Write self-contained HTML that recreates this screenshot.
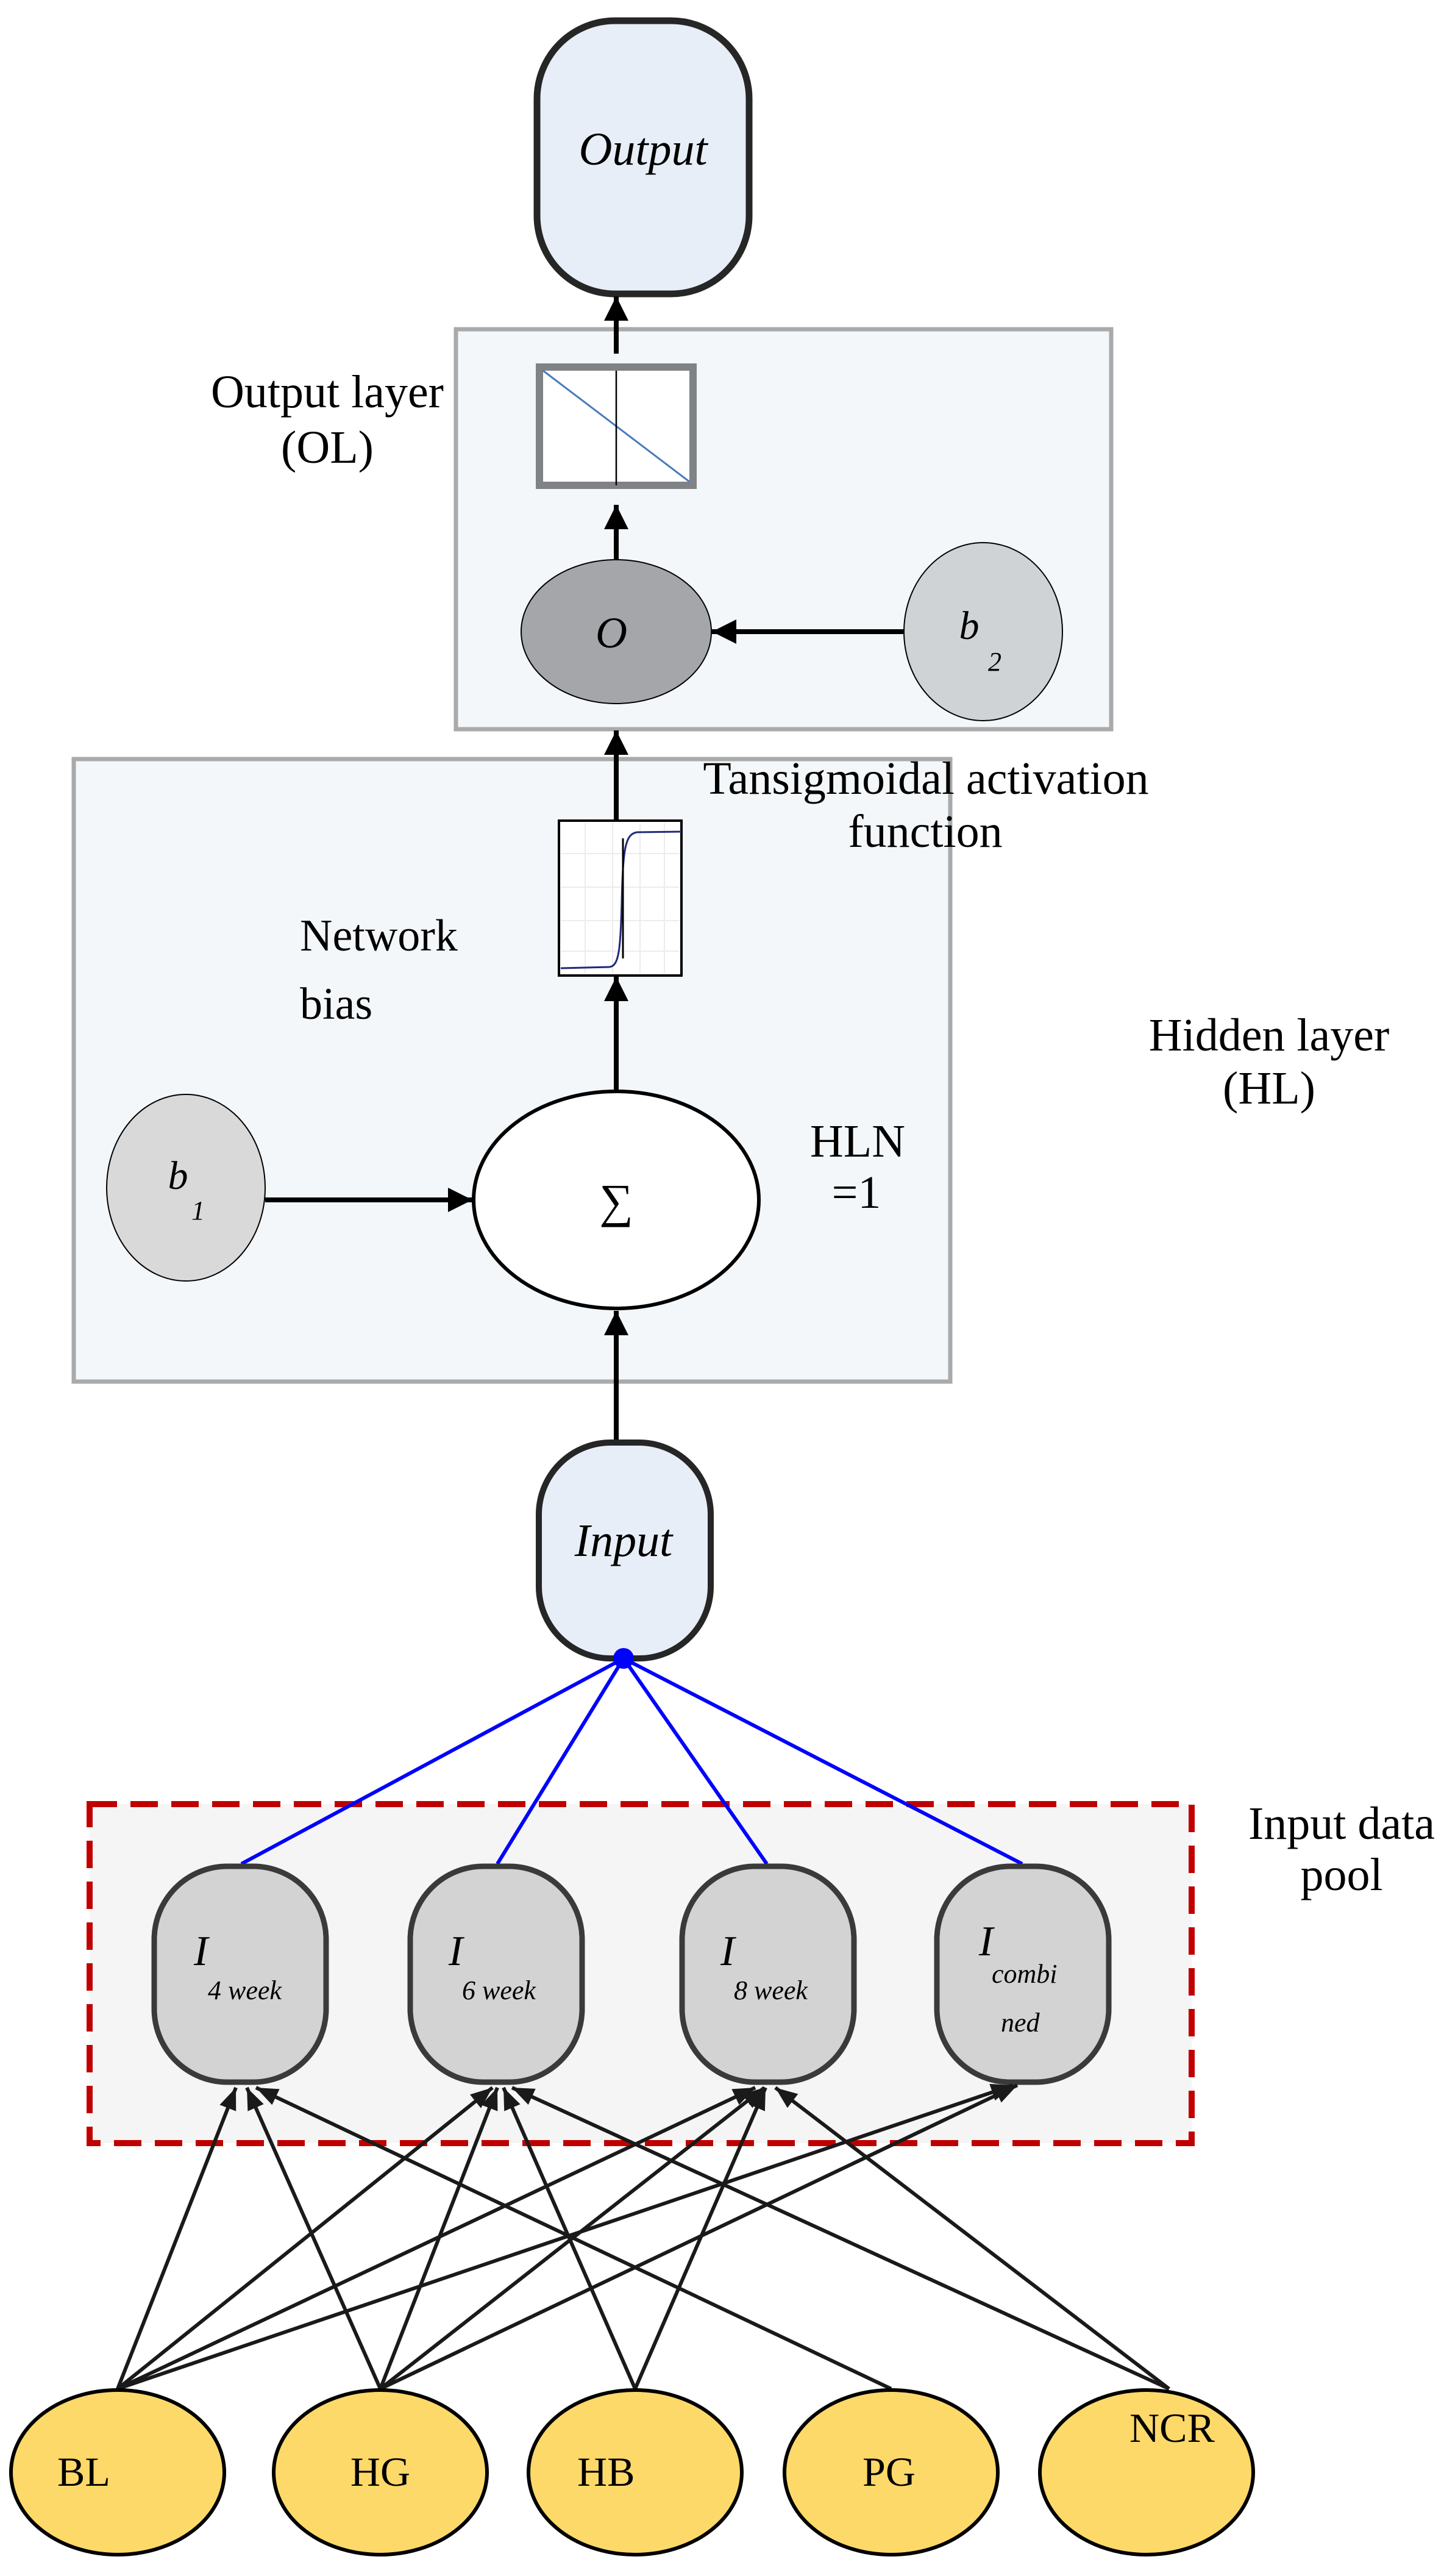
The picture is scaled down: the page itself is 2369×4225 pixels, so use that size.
<!DOCTYPE html>
<html><head><meta charset="utf-8"><style>
html,body{margin:0;padding:0;background:#fff;}
svg{display:block;}
text{font-family:"Liberation Serif",serif;fill:#000;}
</style></head><body>
<svg width="2369" height="4225" viewBox="0 0 2369 4225" xmlns="http://www.w3.org/2000/svg">
<defs>
<marker id="ah" viewBox="0 0 10 10" refX="10" refY="5" markerWidth="5" markerHeight="5" markerUnits="strokeWidth" orient="auto"><path d="M0,0 L10,5 L0,10 z" fill="#000"/></marker>
<marker id="ah2" viewBox="0 0 10 10" refX="10" refY="5" markerWidth="6" markerHeight="6" markerUnits="strokeWidth" orient="auto"><path d="M0,1 L10,5 L0,9 z" fill="#1a1a1a"/></marker>
</defs>

<!-- Output -->
<rect x="881" y="34" width="348" height="448" rx="128" ry="128" fill="#e8eef7" stroke="#262626" stroke-width="11"/>
<text x="1055" y="270" font-size="76" font-style="italic" text-anchor="middle">Output</text>

<!-- Output layer box -->
<rect x="748" y="540" width="1075" height="656" fill="#f4f7fa" stroke="#aaaaaa" stroke-width="7"/>
<line x1="1011" y1="580" x2="1011" y2="486" stroke="#000" stroke-width="8" marker-end="url(#ah)"/>
<rect x="885" y="602" width="252" height="194" fill="#fff" stroke="#808285" stroke-width="12"/>
<line x1="891" y1="608" x2="1131" y2="790" stroke="#4a7ab8" stroke-width="3"/>
<line x1="1011" y1="608" x2="1011" y2="796" stroke="#000" stroke-width="2.5"/>
<line x1="1011" y1="918" x2="1011" y2="828" stroke="#000" stroke-width="8" marker-end="url(#ah)"/>
<ellipse cx="1011" cy="1036" rx="156" ry="118" fill="#a5a6a9" stroke="#000" stroke-width="2"/>
<text x="1003" y="1062" font-size="72" font-style="italic" text-anchor="middle">O</text>
<ellipse cx="1613" cy="1036" rx="130" ry="146" fill="#d0d3d6" stroke="#000" stroke-width="2"/>
<text x="1590" y="1048" font-size="66" font-style="italic" text-anchor="middle">b</text>
<text x="1632" y="1100" font-size="44" font-style="italic" text-anchor="middle">2</text>
<line x1="1483" y1="1036" x2="1168" y2="1036" stroke="#000" stroke-width="8" marker-end="url(#ah)"/>
<text x="537" y="668" font-size="76" text-anchor="middle">Output layer</text>
<text x="537" y="759" font-size="76" text-anchor="middle">(OL)</text>

<!-- Hidden layer box -->
<rect x="121" y="1245" width="1438" height="1021" fill="#f4f7fa" stroke="#aaaaaa" stroke-width="7"/>
<line x1="1011" y1="1350" x2="1011" y2="1198" stroke="#000" stroke-width="8" marker-end="url(#ah)"/>
<rect x="917" y="1346" width="201" height="254" fill="#fff" stroke="#000" stroke-width="4"/>
<g stroke="#ececec" stroke-width="2">
<line x1="960" y1="1350" x2="960" y2="1596"/><line x1="1005" y1="1350" x2="1005" y2="1596"/><line x1="1050" y1="1350" x2="1050" y2="1596"/><line x1="1090" y1="1350" x2="1090" y2="1596"/>
<line x1="920" y1="1400" x2="1115" y2="1400"/><line x1="920" y1="1455" x2="1115" y2="1455"/><line x1="920" y1="1510" x2="1115" y2="1510"/><line x1="920" y1="1560" x2="1115" y2="1560"/>
</g>
<path d="M920,1588 L1000,1586 C1015,1584 1018,1560 1020,1480 C1022,1390 1026,1368 1045,1365 L1118,1364" fill="none" stroke="#1f2a7a" stroke-width="3"/>
<line x1="1022" y1="1375" x2="1022" y2="1572" stroke="#000" stroke-width="3"/>
<line x1="1011" y1="1789" x2="1011" y2="1602" stroke="#000" stroke-width="8" marker-end="url(#ah)"/>
<ellipse cx="1011" cy="1968" rx="234" ry="178" fill="#fff" stroke="#000" stroke-width="6"/>
<text x="1011" y="1996" font-size="78" text-anchor="middle">∑</text>
<ellipse cx="305" cy="1948" rx="130" ry="153" fill="#d9d9d9" stroke="#000" stroke-width="2"/>
<text x="292" y="1950" font-size="66" font-style="italic" text-anchor="middle">b</text>
<text x="325" y="2000" font-size="44" font-style="italic" text-anchor="middle">1</text>
<line x1="435" y1="1968" x2="775" y2="1968" stroke="#000" stroke-width="8" marker-end="url(#ah)"/>
<line x1="1011" y1="2363" x2="1011" y2="2150" stroke="#000" stroke-width="8" marker-end="url(#ah)"/>
<text x="1519" y="1302" font-size="76" text-anchor="middle">Tansigmoidal activation</text>
<text x="1518" y="1389" font-size="76" text-anchor="middle">function</text>
<text x="492" y="1559" font-size="74">Network</text>
<text x="492" y="1671" font-size="74">bias</text>
<text x="1407" y="1897" font-size="76" text-anchor="middle">HLN</text>
<text x="1405" y="1981" font-size="76" text-anchor="middle">=1</text>
<text x="2082" y="1723" font-size="76" text-anchor="middle">Hidden layer</text>
<text x="2082" y="1810" font-size="76" text-anchor="middle">(HL)</text>

<!-- Input -->
<rect x="884" y="2366" width="282" height="354" rx="118" ry="118" fill="#e8eef7" stroke="#262626" stroke-width="10"/>
<text x="1023" y="2552" font-size="76" font-style="italic" text-anchor="middle">Input</text>

<!-- Input data pool -->
<rect x="147" y="2959" width="1808" height="556" fill="#f5f5f5" stroke="#c00000" stroke-width="10" stroke-dasharray="45,22"/>
<text x="2201" y="3016" font-size="76" text-anchor="middle">Input data</text>
<text x="2201" y="3100" font-size="76" text-anchor="middle">pool</text>

<g stroke="#0000ff" stroke-width="6">
<line x1="1023" y1="2720" x2="396" y2="3057"/>
<line x1="1023" y1="2720" x2="816" y2="3057"/>
<line x1="1023" y1="2720" x2="1258" y2="3057"/>
<line x1="1023" y1="2720" x2="1677" y2="3057"/>
</g>
<circle cx="1023" cy="2720" r="17" fill="#0000ff"/>

<g fill="#d3d3d3" stroke="#3a3a3a" stroke-width="9">
<rect x="253" y="3061" width="282" height="354" rx="120" ry="120"/>
<rect x="673" y="3061" width="282" height="354" rx="120" ry="120"/>
<rect x="1119" y="3061" width="282" height="354" rx="120" ry="120"/>
<rect x="1537" y="3061" width="282" height="354" rx="120" ry="120"/>
</g>
<g font-style="italic">
<text x="318" y="3223" font-size="70">I</text><text x="341" y="3279" font-size="44">4 week</text>
<text x="736" y="3223" font-size="70">I</text><text x="758" y="3279" font-size="44">6 week</text>
<text x="1182" y="3223" font-size="70">I</text><text x="1204" y="3279" font-size="44">8 week</text>
<text x="1606" y="3207" font-size="70">I</text><text x="1627" y="3252" font-size="44">combi</text><text x="1642" y="3332" font-size="44">ned</text>
</g>

<!-- black connectors -->
<g stroke="#1a1a1a" stroke-width="6" fill="none">
<line x1="193" y1="3918" x2="387" y2="3424" marker-end="url(#ah2)"/>
<line x1="193" y1="3918" x2="808" y2="3424" marker-end="url(#ah2)"/>
<line x1="193" y1="3918" x2="1239" y2="3424" marker-end="url(#ah2)"/>
<line x1="193" y1="3918" x2="1662" y2="3420" marker-end="url(#ah2)"/>
<line x1="624" y1="3918" x2="405" y2="3424" marker-end="url(#ah2)"/>
<line x1="624" y1="3918" x2="816" y2="3424" marker-end="url(#ah2)"/>
<line x1="624" y1="3918" x2="1254" y2="3424" marker-end="url(#ah2)"/>
<line x1="624" y1="3918" x2="1669" y2="3420" marker-end="url(#ah2)"/>
<line x1="1042" y1="3918" x2="826" y2="3424" marker-end="url(#ah2)"/>
<line x1="1042" y1="3918" x2="1256" y2="3424" marker-end="url(#ah2)"/>
<line x1="1462" y1="3918" x2="420" y2="3424" marker-end="url(#ah2)"/>
<line x1="1918" y1="3918" x2="840" y2="3424" marker-end="url(#ah2)"/>
<line x1="1918" y1="3918" x2="1272" y2="3424" marker-end="url(#ah2)"/>
</g>

<!-- yellow nodes -->
<g fill="#fdd96a" stroke="#000" stroke-width="6">
<ellipse cx="193" cy="4055" rx="175" ry="135"/>
<ellipse cx="624" cy="4055" rx="175" ry="135"/>
<ellipse cx="1042" cy="4055" rx="175" ry="135"/>
<ellipse cx="1462" cy="4055" rx="175" ry="135"/>
<ellipse cx="1881" cy="4055" rx="175" ry="135"/>
</g>
<text x="94" y="4077" font-size="68">BL</text>
<text x="624" y="4077" font-size="68" text-anchor="middle">HG</text>
<text x="947" y="4077" font-size="68">HB</text>
<text x="1415" y="4077" font-size="68">PG</text>
<text x="1853" y="4005" font-size="68">NCR</text>
</svg>
</body></html>
